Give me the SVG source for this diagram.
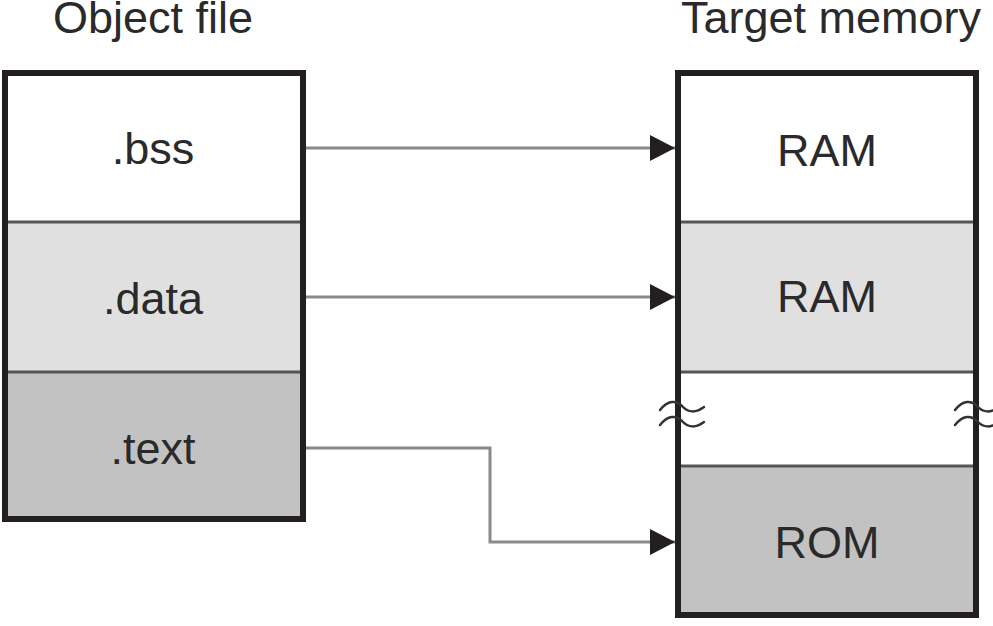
<svg xmlns="http://www.w3.org/2000/svg" width="993" height="626" viewBox="0 0 993 626">
<style>
text{font-family:"Liberation Sans",Arial,sans-serif;font-size:45px;fill:#2a2a2a;text-anchor:middle}
.frame{fill:none;stroke:#231f20;stroke-width:6}
.div{stroke:#555;stroke-width:3}
.conn{fill:none;stroke:#8a8a8a;stroke-width:3}
.brk{fill:none;stroke:#333;stroke-width:2.5;stroke-linecap:round}
</style>
<defs>
<marker id="arr" markerUnits="userSpaceOnUse" markerWidth="26" markerHeight="28" refX="25" refY="14" orient="auto">
<path d="M0,1 L25,14 L0,27 Z" fill="#231f20"/>
</marker>
</defs>
<text x="153" y="33">Object file</text>
<text x="831" y="33">Target memory</text>
<g id="object-file">
<rect x="5" y="73" width="298" height="149" fill="#ffffff"/>
<rect x="5" y="222" width="298" height="150" fill="#e0e0e0"/>
<rect x="5" y="372" width="298" height="147" fill="#c2c2c2"/>
<line class="div" x1="5" y1="222" x2="303" y2="222"/>
<line class="div" x1="5" y1="372" x2="303" y2="372"/>
<rect class="frame" x="5" y="73" width="298" height="446"/>
<text x="153" y="164">.bss</text>
<text x="153" y="314">.data</text>
<text x="153" y="464">.text</text>
</g>
<g id="target-memory">
<rect x="678" y="73" width="298" height="149" fill="#ffffff"/>
<rect x="678" y="222" width="298" height="150" fill="#e0e0e0"/>
<rect x="678" y="372" width="298" height="94" fill="#ffffff"/>
<rect x="678" y="466" width="298" height="149" fill="#c2c2c2"/>
<line class="div" x1="678" y1="222" x2="976" y2="222"/>
<line class="div" x1="678" y1="372" x2="976" y2="372"/>
<line class="div" x1="678" y1="466" x2="976" y2="466"/>
<rect class="frame" x="678" y="73" width="298" height="542"/>
<text x="827" y="166">RAM</text>
<text x="827" y="312">RAM</text>
<text x="827" y="558">ROM</text>
<path class="brk" d="M660,410 C668,400 676,400 682,406 C688,413 696,413 704,407"/>
<path class="brk" d="M660,425 C668,415 676,415 682,421 C688,428 696,428 704,422"/>
<path class="brk" d="M955,410 C963,400 971,400 977,406 C983,413 991,413 999,407"/>
<path class="brk" d="M955,425 C963,415 971,415 977,421 C983,428 991,428 999,422"/>
</g>
<g id="connectors">
<path class="conn" d="M306,148 H675" marker-end="url(#arr)"/>
<path class="conn" d="M306,297 H675" marker-end="url(#arr)"/>
<path class="conn" d="M306,448 H490 V542 H675" marker-end="url(#arr)"/>
</g>
</svg>
